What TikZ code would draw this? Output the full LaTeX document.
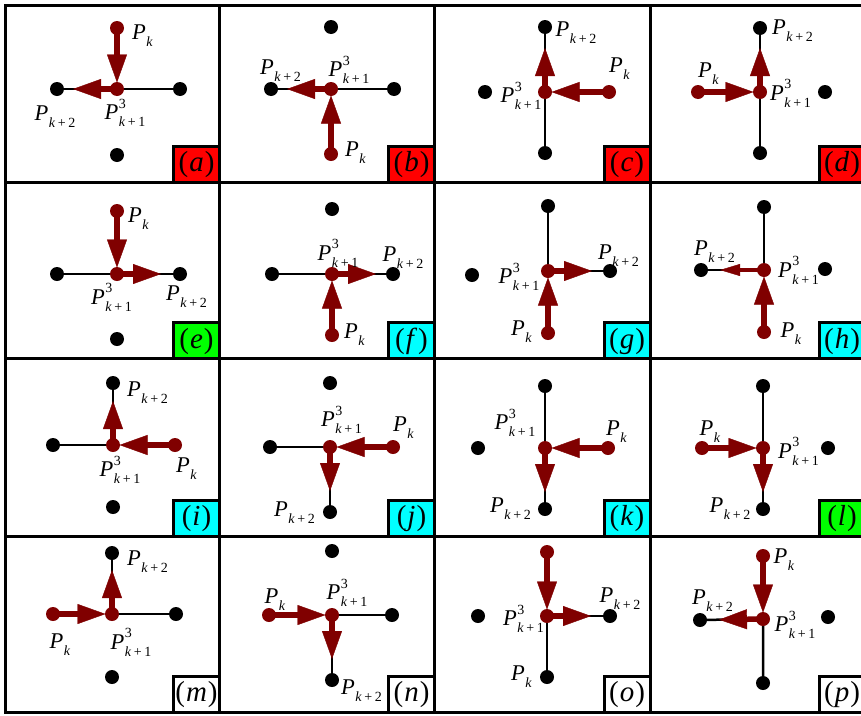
\documentclass[tikz,border=0pt]{standalone}
\usepackage{fontspec}
\setmainfont{Liberation Serif}
\usetikzlibrary{arrows.meta,calc}
\definecolor{maroon}{RGB}{128,0,0}
\definecolor{tagred}{RGB}{255,0,0}
\definecolor{taggreen}{RGB}{0,255,0}
\definecolor{tagcyan}{RGB}{0,255,255}

% point labels
\newcommand\subf{\fontsize{14}{14}\selectfont}
\newcommand\lblPk{\textit{P}\kern0.5pt\raisebox{-7pt}{\subf\textit{k}}}
\newcommand\lblPkk{\textit{P}\kern0.5pt\raisebox{-7pt}{\subf\textit{k}\kern2.5pt+\kern2.5pt2}}
\newcommand\lblPkt{\textit{P}\kern0.5pt\rlap{\raisebox{11.5pt}{\subf 3}}\raisebox{-7pt}{\subf\textit{k}\kern2.5pt+\kern2.5pt1}}

% the five points of one cell: centre, north, south, west, east
\newcommand\setpanel[6]{%
  \coordinate (#1C) at #2; \coordinate (#1N) at #3; \coordinate (#1S) at #4;
  \coordinate (#1W) at #5; \coordinate (#1E) at #6;}
% incoming move from #2 into the centre, outgoing move towards #3
\newcommand\flow[4]{%
  \draw[inarr] (#1#2) -- (#1C);
  \draw[#4] (#1C) -- ($(#1C)!44pt!(#1#3)$);
  \fill[maroon] (#1#2) circle (7) (#1C) circle (7);}
\newcommand\blackdots[4]{\fill (#1#2) circle (7) (#1#3) circle (7) (#1#4) circle (7);}
% corner tag of a cell; #1,#2 = lower right corner
\newcommand\tagbox[4]{%
  \draw[line width=3pt,fill=#3] (#1-46,#2-36) rectangle (#1,#2);
  \node[tagtxt] (tag#4) at (#1-23,#2-10.5) {(\kern1pt\textit{#4}\kern1pt)};}

\begin{document}
\begin{tikzpicture}[x=1pt,y=-1pt,
  blk/.style={line width=2.5pt},
  blkthin/.style={line width=1.3pt},
  inarr/.style={draw=maroon,line width=5.5pt,shorten >=6.5pt,
    -{Triangle[length=28pt,width=20pt,line width=0.4pt]}},
  outarr/.style={draw=maroon,line width=5.5pt,
    -{Triangle[length=28pt,width=20pt,line width=0.4pt]}},
  outsmall/.style={draw=maroon,line width=3.5pt,
    -{Triangle[length=20pt,width=12pt,line width=0.4pt]}},
  lbl/.style={inner sep=0pt,font=\fontsize{22.5}{22.5}\selectfont},
  tagtxt/.style={inner sep=0pt,anchor=base,font=\fontsize{29}{29}\selectfont}]
\useasboundingbox (0,0) rectangle (861,715);
\clip (0,0) rectangle (861,715);
\fill[white] (0,0) rectangle (861,715);

% grid of cells
\foreach \xa/\xb in {5/219.5,219.5/434.5,434.5/650,650/865}
  \foreach \ya/\yb in {5/182,182/358.5,358.5/536,536/712}
    \draw[line width=3pt] (\xa,\ya) rectangle (\xb,\yb);

\setpanel{a}{(117,89)}{(117,28)}{(117,155)}{(57,89)}{(180,89)}
\setpanel{b}{(331,89)}{(331,27)}{(331,154)}{(271,89)}{(394,89)}
\setpanel{c}{(545,92)}{(545,27)}{(545,153)}{(485,92)}{(609,92)}
\setpanel{d}{(760,92)}{(760,28)}{(760,153)}{(698,92)}{(825,92)}
\setpanel{e}{(117,274)}{(117,211)}{(117,339)}{(57,274)}{(180,274)}
\setpanel{f}{(332,274)}{(332,209)}{(332,335)}{(272,274)}{(393,274)}
\setpanel{g}{(548,271)}{(548,206)}{(548,333)}{(472,275)}{(610,271)}
\setpanel{h}{(764,270)}{(764,207)}{(764,332)}{(701,270)}{(825,269)}
\setpanel{i}{(113,445)}{(113,383)}{(113,507)}{(53,445)}{(175,445)}
\setpanel{j}{(330,447)}{(330,383)}{(330,512)}{(270,447)}{(393,447)}
\setpanel{k}{(545,448)}{(545,386)}{(545,509)}{(478,448)}{(608,448)}
\setpanel{l}{(763,448)}{(763,386)}{(763,509)}{(702,448)}{(828,448)}
\setpanel{m}{(112,614)}{(112,553)}{(112,677)}{(53,614)}{(176,614)}
\setpanel{n}{(332,615)}{(332,551)}{(332,680)}{(269,615)}{(392,615)}
\setpanel{o}{(547,616)}{(547,552)}{(547,677)}{(478,616)}{(610,616)}
\setpanel{p}{(763,619)}{(763,556)}{(763,683)}{(700,620)}{(828,617)}

% black segments
\draw[blkthin] (aW) -- (aE);
\draw[blkthin] (bW) -- (bE);
\draw[blk] (cN) -- (cS);
\draw[blk] (dN) -- (dS);
\draw[blk] (eW) -- (eE);
\draw[blk] (fW) -- (fE);
\draw[blk] (gN) -- (gC) -- (gE);
\draw[blk] (hN) -- (hC) -- (hW);
\draw[blk] (iN) -- (iC) -- (iW);
\draw[blk] (jW) -- (jC) -- (jS);
\draw[blk] (kN) -- (kS);
\draw[blk] (lN) -- (lS);
\draw[blk] (mN) -- (mC) -- (mE);
\draw[blk] (nE) -- (nC) -- (nS);
\draw[blk] (oS) -- (oC) -- (oE);
\draw[blk] (pW) -- (pC) -- (pS);

% black points
\blackdots{a}{W}{E}{S}
\blackdots{b}{W}{E}{N}
\blackdots{c}{N}{S}{W}
\blackdots{d}{N}{S}{E}
\blackdots{e}{W}{E}{S}
\blackdots{f}{W}{E}{N}
\blackdots{g}{N}{E}{W}
\blackdots{h}{N}{W}{E}
\blackdots{i}{N}{W}{S}
\blackdots{j}{N}{W}{S}
\blackdots{k}{N}{S}{W}
\blackdots{l}{N}{S}{E}
\blackdots{m}{N}{E}{S}
\blackdots{n}{N}{E}{S}
\blackdots{o}{W}{E}{S}
\blackdots{p}{W}{E}{S}

% moves
\flow{a}{N}{W}{outarr}
\flow{b}{S}{W}{outarr}
\flow{c}{E}{N}{outarr}
\flow{d}{W}{N}{outarr}
\flow{e}{N}{E}{outarr}
\flow{f}{S}{E}{outarr}
\flow{g}{S}{E}{outarr}
\flow{h}{S}{W}{outsmall}
\flow{i}{E}{N}{outarr}
\flow{j}{E}{S}{outarr}
\flow{k}{E}{S}{outarr}
\flow{l}{W}{S}{outarr}
\flow{m}{W}{N}{outarr}
\flow{n}{W}{S}{outarr}
\flow{o}{N}{E}{outarr}
\flow{p}{N}{W}{outarr}

% labels
\node[lbl] (a1) at (142.5,36) {\lblPk};
\node[lbl] (a2) at (55,117) {\lblPkk};
\node[lbl] (a3) at (125,113) {\lblPkt};
\node[lbl] (b1) at (355.5,152.5) {\lblPk};
\node[lbl] (b2) at (280.5,71) {\lblPkk};
\node[lbl] (b3) at (349,70) {\lblPkt};
\node[lbl] (c1) at (619.5,68.5) {\lblPk};
\node[lbl] (c2) at (576,32.5) {\lblPkk};
\node[lbl] (c3) at (521,96) {\lblPkt};
\node[lbl] (d1) at (708.5,74) {\lblPk};
\node[lbl] (d2) at (792.5,31) {\lblPkk};
\node[lbl] (d3) at (790.5,93.5) {\lblPkt};
\node[lbl] (e1) at (138.5,219) {\lblPk};
\node[lbl] (e2) at (186.5,297) {\lblPkk};
\node[lbl] (e3) at (111.5,297.5) {\lblPkt};
\node[lbl] (f1) at (354.5,335) {\lblPk};
\node[lbl] (f2) at (403,258) {\lblPkk};
\node[lbl] (f3) at (338,253.5) {\lblPkt};
\node[lbl] (g1) at (521.5,332) {\lblPk};
\node[lbl] (g2) at (618.5,255.5) {\lblPkk};
\node[lbl] (g3) at (519,277) {\lblPkt};
\node[lbl] (h1) at (791,334) {\lblPk};
\node[lbl] (h2) at (714.5,252) {\lblPkk};
\node[lbl] (h3) at (798.5,270.5) {\lblPkt};
\node[lbl] (i1) at (186.5,469) {\lblPk};
\node[lbl] (i2) at (147.5,392.5) {\lblPkk};
\node[lbl] (i3) at (120,470) {\lblPkt};
\node[lbl] (j1) at (403.5,428) {\lblPk};
\node[lbl] (j2) at (294.5,512.5) {\lblPkk};
\node[lbl] (j3) at (341.5,420) {\lblPkt};
\node[lbl] (k1) at (616.5,431.5) {\lblPk};
\node[lbl] (k2) at (510.5,509) {\lblPkk};
\node[lbl] (k3) at (515,423) {\lblPkt};
\node[lbl] (l1) at (710,431.5) {\lblPk};
\node[lbl] (l2) at (730,509) {\lblPkk};
\node[lbl] (l3) at (798.5,451.5) {\lblPkt};
\node[lbl] (m1) at (60,645) {\lblPk};
\node[lbl] (m2) at (147.5,562) {\lblPkk};
\node[lbl] (m3) at (131,642.5) {\lblPkt};
\node[lbl] (n1) at (275,600) {\lblPk};
\node[lbl] (n2) at (361.5,691) {\lblPkk};
\node[lbl] (n3) at (347,593) {\lblPkt};
\node[lbl] (o1) at (521.5,677) {\lblPk};
\node[lbl] (o2) at (620,599) {\lblPkk};
\node[lbl] (o3) at (523.5,619) {\lblPkt};
\node[lbl] (p1) at (784,560) {\lblPk};
\node[lbl] (p2) at (712.5,601) {\lblPkk};
\node[lbl] (p3) at (795,625) {\lblPkt};

% corner tags
\tagbox{219.5}{182}{tagred}{a}
\tagbox{434.5}{182}{tagred}{b}
\tagbox{650}{182}{tagred}{c}
\tagbox{865}{182}{tagred}{d}
\tagbox{219.5}{358.5}{taggreen}{e}
\tagbox{434.5}{358.5}{tagcyan}{f}
\tagbox{650}{358.5}{tagcyan}{g}
\tagbox{865}{358.5}{tagcyan}{h}
\tagbox{219.5}{536}{tagcyan}{i}
\tagbox{434.5}{536}{tagcyan}{j}
\tagbox{650}{536}{tagcyan}{k}
\tagbox{865}{536}{taggreen}{l}
\tagbox{219.5}{712}{white}{m}
\tagbox{434.5}{712}{white}{n}
\tagbox{650}{712}{white}{o}
\tagbox{865}{712}{white}{p}
\end{tikzpicture}
\end{document}
